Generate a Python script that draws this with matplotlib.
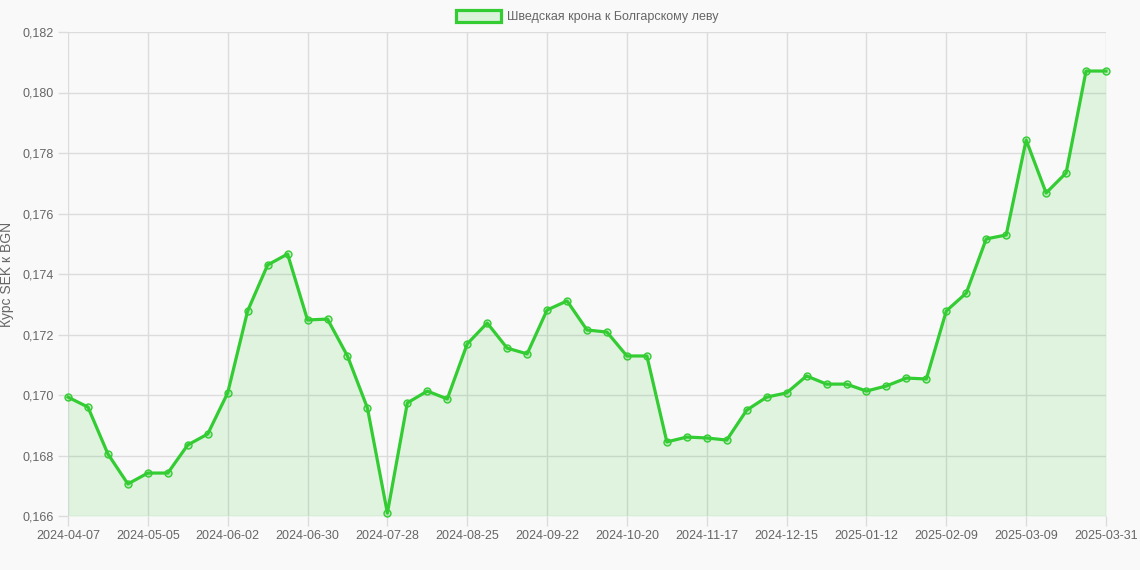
import datetime as dt

import matplotlib as mpl
mpl.use('Agg')
import matplotlib.pyplot as plt
from matplotlib.patches import Patch
from matplotlib.ticker import FuncFormatter


# weekly dates, last point is 2025-03-31
start = dt.date(2024, 4, 7)
dates = [start + dt.timedelta(days=7 * i) for i in range(52)] + [dt.date(2025, 3, 31)]
labels = [d.isoformat() for d in dates]

# SEK -> BGN rate
rates = [
    0.16993, 0.16960, 0.16805, 0.16706, 0.16742, 0.16742, 0.16835, 0.16871,
    0.17007, 0.17278, 0.17430, 0.17466, 0.17248, 0.17251, 0.17129, 0.16957,
    0.16610, 0.16974, 0.17013, 0.16987, 0.17169, 0.17238, 0.17155, 0.17136,
    0.17281, 0.17311, 0.17215, 0.17208, 0.17129, 0.17129, 0.16845, 0.16861,
    0.16858, 0.16851, 0.16950, 0.16993, 0.17007, 0.17063, 0.17036, 0.17036,
    0.17013, 0.17030, 0.17056, 0.17053, 0.17278, 0.17337, 0.17516, 0.17529,
    0.17843, 0.17668, 0.17734, 0.18071, 0.18071,
]

y_ticks = [0.166, 0.168, 0.170, 0.172, 0.174, 0.176, 0.178, 0.180, 0.182]
tick_idx = list(range(0, 49, 4)) + [52]

line_color = '#33cc33'
bg = '#f9f9f9'
text_color = '#666666'
series_name = 'Шведская крона к Болгарскому леву'

plt.rcParams['font.family'] = ['Liberation Sans', 'DejaVu Sans']

fig = plt.figure(figsize=(11.4, 5.7), dpi=100, facecolor=bg)
ax = fig.add_axes([68 / 1140, 1 - 516 / 570, (1106 - 68) / 1140, (516 - 32) / 570])
ax.set_facecolor(bg)

x = list(range(len(rates)))
ax.fill_between(x, rates, 0.166, color=line_color, alpha=0.13, linewidth=0)
ax.plot(x, rates, color=line_color, linewidth=2.3, marker='o', markersize=5,
        markerfacecolor=(0.2, 0.8, 0.2, 0.25), markeredgecolor=line_color,
        markeredgewidth=1, clip_on=False)

ax.set_xlim(0, len(rates) - 1)
ax.set_ylim(0.166, 0.182)
ax.set_yticks(y_ticks)
ax.yaxis.set_major_formatter(FuncFormatter(lambda v, p: '{:.3f}'.format(v).replace('.', ',')))
ax.set_xticks(tick_idx)
ax.set_xticklabels([labels[i] for i in tick_idx])

ax.grid(True, color='#dcdcdc', linewidth=1)
ax.set_axisbelow(True)
for s in ax.spines.values():
    s.set_visible(False)
ax.tick_params(axis='both', colors='#dcdcdc', labelcolor=text_color,
               labelsize=9, length=7, width=1)
ax.tick_params(axis='x', pad=3)

ax.set_ylabel('Курс SEK к BGN', color=text_color, fontsize=10, labelpad=6)

# legend handle drawn as a filled box like the original
ax.legend(handles=[Patch(facecolor=(0.2, 0.8, 0.2, 0.15), edgecolor=line_color, linewidth=2.3,
                         label=series_name)],
          loc='lower center', bbox_to_anchor=(0.5, 1.0), frameon=False,
          fontsize=9, handlelength=3.6, handleheight=1.0, labelcolor=text_color,
          borderaxespad=0.3, handletextpad=0.5)

fig.savefig('out.png', dpi=100, facecolor=bg)
